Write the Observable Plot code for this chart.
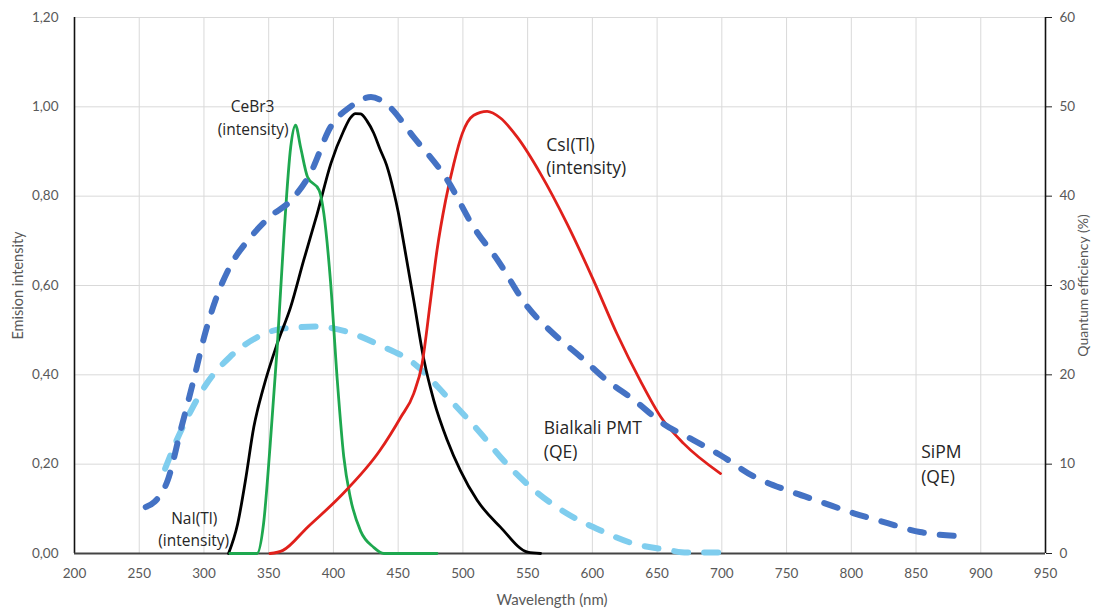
<!DOCTYPE html>
<html><head><meta charset="utf-8">
<script src="https://cdn.jsdelivr.net/npm/d3@7"></script>
<script src="https://cdn.jsdelivr.net/npm/@observablehq/plot@0.6"></script>
<style>body{margin:0;background:#fff;} #chart svg{display:block;}</style>
</head><body><div id="chart"></div>
<script>
// ---- tick labels ----
const xTicks = [200,250,300,350,400,450,500,550,600,650,700,750,800,850,900,950];
const yTicks = [0,0.2,0.4,0.6,0.8,1.0,1.2];
const qeTicks = [0,10,20,30,40,50,60];

// ---- SiPM quantum efficiency (%) ----
const sipmWl = [255,262,272,282,292,301,309,320,336,351,367,382,398,413,429,441,462,488,508,527,550,570,591,611,632,655,678,699,725,750,776,802,828,853,890];
const sipmQE = [5.2,5.8,8.2,13.8,19.4,24.7,28.4,32.1,35.4,37.7,39.5,42.5,47.8,50.0,51.1,50.3,46.6,41.8,36.6,32.8,27.6,24.6,22.0,19.4,17.2,14.5,12.7,11.0,8.6,7.1,5.8,4.5,3.4,2.4,1.9];

// ---- Bialkali PMT quantum efficiency (%) ----
const pmtWl = [270,279,290,302,320,341,362,388,411,436,462,488,514,529,555,580,606,632,658,673,700];
const pmtQE = [9.5,12.7,16.0,19.0,22.0,24.2,25.2,25.4,24.8,23.3,21.3,17.5,13.4,10.8,7.1,4.5,2.6,1.1,0.4,0.1,0.1];

// ---- NaI(Tl) emission intensity ----
const naiWl = [319,326,332,338.5,346,356.6,367,377,387.5,398,408,413,417,421,426,431,436,441,446.6,450,454,462,470,477.5,488,498,511,529,550,560];
const naiI = [0,0.066,0.163,0.283,0.372,0.47,0.552,0.656,0.761,0.873,0.947,0.975,0.985,0.984,0.968,0.942,0.905,0.87,0.81,0.765,0.70,0.567,0.432,0.343,0.253,0.186,0.119,0.059,0.003,0];

// ---- CeBr3 emission intensity ----
const cebrWl = [320,341,346,351,356.6,362,367,370.7,374.6,380,389,392.6,397.7,403,408,413,421,431,439,480];
const cebrI = [0,0,0.066,0.238,0.462,0.723,0.91,0.959,0.91,0.843,0.813,0.761,0.611,0.387,0.216,0.126,0.05,0.014,0,0];

// ---- CsI(Tl) emission intensity ----
const csiWl = [351,361,380,405,436,452,462,468.5,475,480,486.6,493,499.5,508.4,518.7,529,542,560,580.5,601,619,637,653,670.6,699];
const csiI = [0,0.007,0.059,0.127,0.231,0.305,0.358,0.425,0.567,0.679,0.79,0.873,0.94,0.981,0.99,0.975,0.932,0.85,0.738,0.611,0.492,0.387,0.305,0.246,0.179];

// ---- annotations ----
const annoText = ["CeBr3","(intensity)","NaI(Tl)","(intensity)","CsI(Tl)","(intensity)","Bialkali PMT","(QE)","SiPM","(QE)"];
const annoX = [337.5,338,292.5,292.1,564.3,564.3,562.5,562.5,854,854];
const annoY = [1.0,0.949,0.078,0.029,0.914,0.862,0.279,0.227,0.227,0.171];

const qeScale = 50; // 60 % on right axis == 1.20 on left axis

const pts = (wl, vals, f = 1) => wl.map((w, i) => ({wl: w, v: vals[i] / f}));
const anno = annoText.map((t, i) => ({t, x: annoX[i], y: annoY[i], small: i < 4}));

const tickFont = "Lato, 'Open Sans', sans-serif";
const labFont = "'Open Sans', 'Noto Sans', sans-serif";

const chart = Plot.plot({
  width: 1102, height: 615,
  marginLeft: 74, marginRight: 57, marginTop: 17, marginBottom: 62,
  x: {domain: [200, 950], label: null},
  y: {domain: [0, 1.2], label: null},
  style: {fontFamily: tickFont, fontSize: "13.5px", background: "#fff", color: "#595959"},
  marks: [
    Plot.gridX(xTicks, {stroke: "#d9d9d9", strokeOpacity: 1, strokeWidth: 1}),
    Plot.gridY(yTicks, {stroke: "#d9d9d9", strokeOpacity: 1, strokeWidth: 1}),
    Plot.axisX(xTicks, {tickSize: 0, tickPadding: 15, tickFormat: d => String(d), fill: "#595959", label: null}),
    Plot.axisY(yTicks, {anchor: "left", tickSize: 0, tickPadding: 16, tickFormat: d => d.toFixed(2).replace(".", ","), fill: "#595959", label: null}),
    Plot.axisY(qeTicks.map(v => v / qeScale), {anchor: "right", tickSize: 6, tickPadding: 8, stroke: "#222", fill: "#595959", tickFormat: d => String(Math.round(d * qeScale)), label: null}),
    Plot.ruleX([200], {stroke: "#111", strokeWidth: 1.6}),
    Plot.ruleX([950], {stroke: "#111", strokeWidth: 1.6}),
    Plot.ruleY([0], {stroke: "#444", strokeWidth: 1.8}),
    Plot.line(pts(pmtWl, pmtQE, qeScale), {x: "wl", y: "v", stroke: "#7fcdee", strokeWidth: 6, strokeDasharray: "14,16", strokeLinecap: "round", curve: "monotone-x"}),
    Plot.line(pts(naiWl, naiI), {x: "wl", y: "v", stroke: "#000", strokeWidth: 2.8, curve: "monotone-x"}),
    Plot.line(pts(cebrWl, cebrI), {x: "wl", y: "v", stroke: "#1ea84f", strokeWidth: 2.8, curve: "monotone-x"}),
    Plot.line(pts(csiWl, csiI), {x: "wl", y: "v", stroke: "#e0201b", strokeWidth: 2.8, curve: "monotone-x"}),
    Plot.line(pts(sipmWl, sipmQE, qeScale), {x: "wl", y: "v", stroke: "#4472c4", strokeWidth: 6, strokeDasharray: "14,16", strokeLinecap: "round", curve: "monotone-x"}),
    Plot.text(anno.filter(d => d.small), {x: "x", y: "y", text: "t", textAnchor: "middle", fontFamily: labFont, fontSize: 15.5, fill: "#262626"}),
    Plot.text(anno.filter(d => !d.small), {x: "x", y: "y", text: "t", textAnchor: "start", fontFamily: labFont, fontSize: 17.5, fill: "#262626"}),
    Plot.text(["Wavelength (nm)"], {frameAnchor: "bottom", dy: 51, dx: -8, textAnchor: "middle", text: d => d, fontSize: 15, fill: "#595959"}),
    Plot.text(["Emision intensity"], {frameAnchor: "left", dx: -56, rotate: -90, textAnchor: "middle", text: d => d, fontSize: 14.5, fill: "#595959"}),
    Plot.text(["Quantum efficiency (%)"], {frameAnchor: "right", dx: 38, rotate: -90, textAnchor: "middle", text: d => d, fontSize: 14, fill: "#595959"})
  ]
});
document.getElementById("chart").append(chart);
</script>
</body></html>
